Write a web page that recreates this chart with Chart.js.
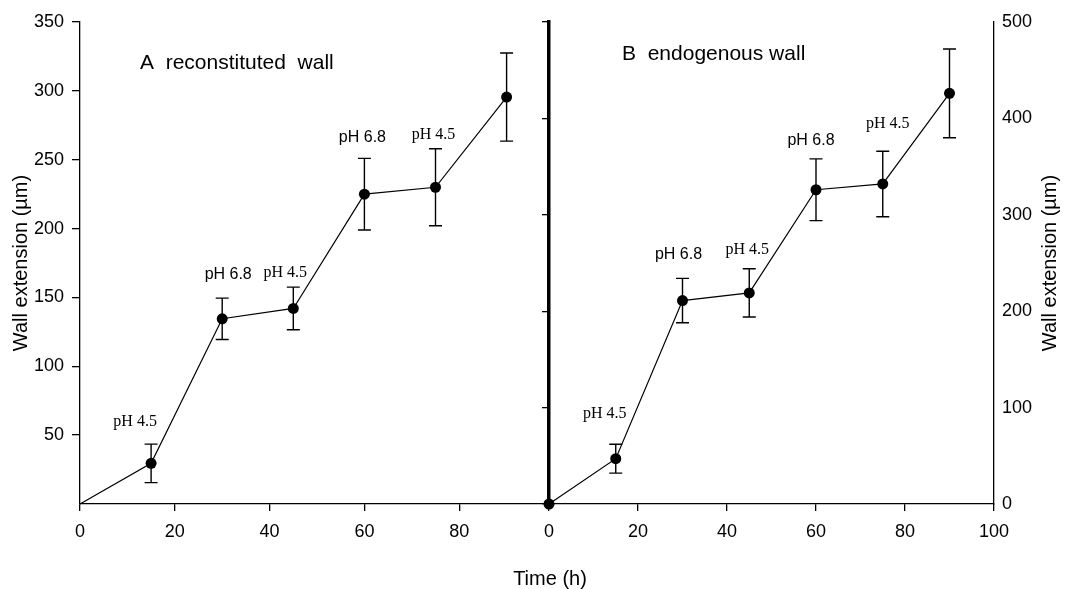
<!DOCTYPE html>
<html>
<head>
<meta charset="utf-8">
<script src="https://cdn.jsdelivr.net/npm/chart.js@4.4.0/dist/chart.umd.min.js"></script>
<style>
  body { margin: 0; background: #fff; }
  #wrap { position: relative; width: 1066px; height: 589px; }
  canvas { position: absolute; top: 0; }
  #chartA { left: 0; }
  #chartB { left: 500px; }
</style>
</head>
<body>
<div id="wrap">
  <canvas id="chartA" width="566" height="589"></canvas>
  <canvas id="chartB" width="566" height="589"></canvas>
</div>
<script>
// data
const times = [0, 15, 30, 45, 60, 75, 90];
const wallA = [0, 29.5, 134.5, 142, 225, 230, 295.5];
const errA  = [0, 14, 15, 15.5, 26, 28, 32];
const wallB = [0, 47, 211, 219, 326, 332, 426];
const errB  = [0, 15, 23, 25, 32, 34, 46];
const phTags = ['', 'pH 4.5', 'pH 6.8', 'pH 4.5', 'pH 6.8', 'pH 4.5', ''];
const xLabelsA = [0, 20, 40, 60, 80];
const xLabelsB = [0, 20, 40, 60, 80, 100];
const yLabelsA = [50, 100, 150, 200, 250, 300, 350];
const yLabelsB = [0, 100, 200, 300, 400, 500];

const titleA = 'A  reconstituted  wall';
const titleB = 'B  endogenous wall';
const yTitle = 'Wall extension (\u00b5m)';
const xTitle = 'Time (h)';

const SANS = '"Liberation Sans", Arial, sans-serif';
const SERIF = '"Liberation Serif", "Times New Roman", serif';
const INK = '#000';

// label nudges (px) relative to top of each error bar
const nudgeA = [null, [-16, -22], [6, -24], [-8, -14], [-2, -21], [-2, -14], null];
const nudgeB = [null, [-11, -30], [-4, -24], [-2, -19], [-5, -18], [5, -27], null];
const tagFont = { 'pH 4.5': '16px ' + SERIF, 'pH 6.8': '16px ' + SANS };

const errorBars = {
  id: 'errorBars',
  afterDatasetsDraw(chart, args, o) {
    const { ctx } = chart;
    const x = chart.scales.x, y = chart.scales.y;
    ctx.save();
    ctx.strokeStyle = INK;
    ctx.lineWidth = 1.4;
    o.means.forEach((m, i) => {
      const e = o.errs[i];
      if (!e) return;
      const px = x.getPixelForValue(times[i]);
      const top = y.getPixelForValue(m + e);
      const bot = y.getPixelForValue(m - e);
      ctx.beginPath();
      ctx.moveTo(px, top); ctx.lineTo(px, bot);
      ctx.moveTo(px - 6.5, top); ctx.lineTo(px + 6.5, top);
      ctx.moveTo(px - 6.5, bot); ctx.lineTo(px + 6.5, bot);
      ctx.stroke();
    });
    // pH tags above the bars
    ctx.fillStyle = INK;
    ctx.textAlign = 'center';
    ctx.textBaseline = 'middle';
    phTags.forEach((t, i) => {
      if (!t) return;
      const n = o.nudge[i];
      const px = x.getPixelForValue(times[i]);
      const top = y.getPixelForValue(o.means[i] + o.errs[i]);
      ctx.font = tagFont[t];
      ctx.fillText(t, px + n[0], top + n[1]);
    });
    ctx.restore();
  }
};

const freeText = {
  id: 'freeText',
  afterDraw(chart, args, o) {
    const { ctx } = chart;
    o.items.forEach(t => {
      ctx.save();
      ctx.translate(t.x, t.y);
      ctx.rotate(t.rot || 0);
      ctx.font = t.font;
      ctx.fillStyle = INK;
      ctx.textAlign = t.align || 'center';
      ctx.textBaseline = 'middle';
      ctx.fillText(t.text, 0, 0);
      ctx.restore();
    });
  }
};

function fixBox(w, h) {
  return function (scale) {
    if (w) scale.width = w;
    if (h) scale.height = h;
    scale.paddingTop = 0; scale.paddingBottom = 0;
    scale.paddingLeft = 0; scale.paddingRight = 0;
  };
}

const tickFont = { family: SANS, size: 18 };

function lineData(means, showFirst) {
  return {
    datasets: [{
      data: times.map((t, i) => ({ x: t, y: means[i] })),
      borderColor: INK,
      borderWidth: 1.2,
      backgroundColor: INK,
      pointBackgroundColor: INK,
      pointBorderColor: INK,
      pointRadius: c => (c.dataIndex === 0 && !showFirst) ? 0 : 5.5,
      pointBorderWidth: 0,
      tension: 0,
      clip: false
    }]
  };
}

new Chart(document.getElementById('chartA'), {
  type: 'line',
  data: lineData(wallA, false),
  options: {
    responsive: false,
    animation: false,
    layout: { padding: { top: 22, right: 12, left: 0, bottom: 0 } },
    plugins: {
      legend: { display: false },
      tooltip: { enabled: false },
      errorBars: { means: wallA, errs: errA, nudge: nudgeA },
      freeText: { items: [
        { text: titleA, x: 140, y: 63, font: '21px ' + SANS, align: 'left' },
        { text: yTitle, x: 21, y: 263, rot: -Math.PI / 2, font: '20px ' + SANS }
      ] }
    },
    scales: {
      x: {
        type: 'linear', min: 0, max: 100,
        afterFit: fixBox(0, 85),
        ticks: { stepSize: 20, color: INK, font: tickFont, padding: 10, maxRotation: 0,
                 callback: v => xLabelsA.includes(v) ? v : '' },
        grid: { drawOnChartArea: false, tickLength: 7, lineWidth: 1.3,
                color: c => c.tick && c.tick.value === 100 ? 'rgba(0,0,0,0)' : INK },
        border: { color: INK, width: 1.3 }
      },
      y: {
        min: 0, max: 350,
        afterFit: fixBox(80, 0),
        ticks: { stepSize: 50, color: INK, font: tickFont, padding: 8,
                 callback: v => yLabelsA.includes(v) ? v : '' },
        grid: { drawOnChartArea: false, tickLength: 8, lineWidth: 1.3,
                color: c => c.tick && c.tick.value === 0 ? 'rgba(0,0,0,0)' : INK },
        border: { color: INK, width: 1.3 }
      }
    }
  },
  plugins: [errorBars, freeText]
});

new Chart(document.getElementById('chartB'), {
  type: 'line',
  data: lineData(wallB, true),
  options: {
    responsive: false,
    animation: false,
    layout: { padding: { top: 22, right: 0, left: 0, bottom: 0 } },
    plugins: {
      legend: { display: false },
      tooltip: { enabled: false },
      errorBars: { means: wallB, errs: errB, nudge: nudgeB },
      freeText: { items: [
        { text: titleB, x: 122, y: 54, font: '21px ' + SANS, align: 'left' },
        { text: xTitle, x: 50, y: 579, font: '20px ' + SANS },
        { text: yTitle, x: 550, y: 263, rot: -Math.PI / 2, font: '20px ' + SANS }
      ] }
    },
    scales: {
      x: {
        type: 'linear', min: 0, max: 100,
        afterFit: fixBox(0, 85),
        ticks: { stepSize: 20, color: INK, font: tickFont, padding: 10, maxRotation: 0,
                 callback: v => xLabelsB.includes(v) ? v : '' },
        grid: { drawOnChartArea: false, tickLength: 7, lineWidth: 1.3, color: INK },
        border: { color: INK, width: 1.3 }
      },
      yl: {
        position: 'left', min: 0, max: 500,
        afterFit: fixBox(49, 0),
        ticks: { stepSize: 100, callback: () => '' },
        grid: { drawOnChartArea: false, tickLength: 7, lineWidth: 1.3, color: INK },
        border: { color: INK, width: 3.5 }
      },
      y: {
        position: 'right', min: 0, max: 500,
        afterFit: fixBox(72, 0),
        ticks: { stepSize: 100, color: INK, font: tickFont, padding: 8,
                 callback: v => yLabelsB.includes(v) ? v : '' },
        grid: { drawOnChartArea: false, drawTicks: false },
        border: { color: INK, width: 1.3 }
      }
    }
  },
  plugins: [errorBars, freeText]
});
</script>
</body>
</html>
